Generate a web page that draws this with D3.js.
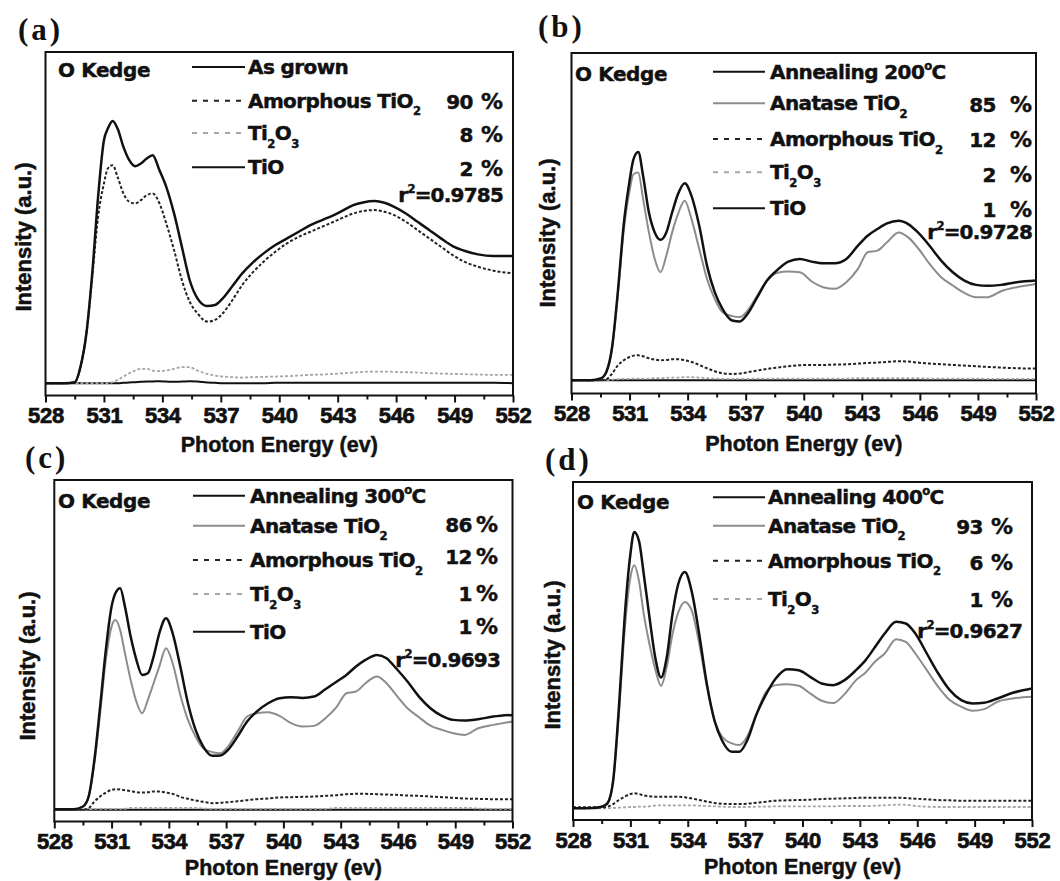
<!DOCTYPE html>
<html><head><meta charset="utf-8">
<script src="https://cdn.jsdelivr.net/npm/d3@7"></script>
<style>body{margin:0;background:#fff;} svg{display:block;background:#fff;}</style>
</head><body>
<svg id="chart" width="1060" height="881"></svg>
<script>
// ---------------- DATA ----------------
const energy = [528, 529, 529.5, 529.8, 530.1, 530.4, 530.7, 531.0, 531.2, 531.45, 531.7, 532.0, 532.3, 532.6, 532.9, 533.2, 533.5, 533.85, 534.2, 534.6, 535.0, 535.4, 535.8, 536.3, 536.7, 537.1, 537.6, 538.1, 538.6, 539.2, 539.8, 540.4, 541.0, 541.6, 542.2, 542.8, 543.3, 543.8, 544.3, 544.9, 545.4, 545.9, 546.5, 547.1, 547.7, 548.3, 548.9, 549.5, 550.2, 551.0, 552];
const xTickValues = [528, 531, 534, 537, 540, 543, 546, 549, 552];
const xMinorTickValues = [529.5, 532.5, 535.5, 538.5, 541.5, 544.5, 547.5, 550.5];

// (a) As grown
const a_main      = [0, 0, 0.3, 5, 15, 33, 56, 73, 76.5, 78.8, 76.5, 71, 67, 65.2, 66, 67.5, 68.5, 64, 59, 51, 41, 31, 25.5, 23.2, 23.5, 25.5, 29.2, 33, 36, 39, 41.5, 43.5, 45.5, 47.5, 49, 50.5, 52, 53.5, 54.3, 54.7, 54.2, 53, 51, 48.5, 46, 43.5, 41.2, 39.8, 38.7, 38.2, 38.2];
const a_amorphous = [0, 0, 0.3, 5, 15, 32, 50, 60, 64.5, 65.5, 62, 57, 54.5, 54, 55, 56.5, 57, 54, 48, 40, 31, 24.5, 21, 18.5, 19, 21, 25, 29.5, 33, 36.5, 39.5, 42, 44, 45.5, 47, 48.5, 49.8, 51, 51.7, 52, 51.5, 50.5, 48.5, 46, 43.5, 41, 38.5, 36.5, 35, 33.8, 33];
const a_ti2o3     = [0, 0, 0, 0, 0, 0, 0, 0, 0, 0.3, 1, 2, 3, 3.8, 4.3, 4.3, 3.8, 3.6, 3.8, 4.3, 4.8, 4.8, 3.8, 2.8, 2.3, 2, 1.8, 1.7, 1.8, 1.9, 2, 2.1, 2.3, 2.5, 2.6, 2.8, 3, 3.2, 3.4, 3.5, 3.5, 3.4, 3.3, 3.2, 3, 2.9, 2.8, 2.7, 2.6, 2.5, 2.5];
const a_tio       = [0, 0, 0, 0, 0, 0, 0, 0, 0, 0, 0, 0.1, 0.2, 0.3, 0.4, 0.5, 0.5, 0.6, 0.5, 0.4, 0.5, 0.6, 0.5, 0.2, 0.1, 0, 0, 0, 0, 0, 0.1, 0.1, 0.1, 0.1, 0.1, 0.1, 0.1, 0.1, 0.1, 0.1, 0.1, 0.1, 0.1, 0.1, 0.1, 0.1, 0.1, 0.1, 0.1, 0.1, 0];

// (b) Annealing 200 °C
const b_main      = [0, 0, 0.5, 2.5, 10, 27, 47, 60, 66.5, 68.7, 61.5, 50.5, 44.5, 42.3, 44.5, 50.5, 56, 59.3, 55.5, 46.5, 34.5, 26.5, 21.5, 18, 17.7, 20, 25, 30, 33, 35.7, 36.5, 35.7, 35.2, 35.2, 36.5, 40.5, 43.5, 45.5, 47.2, 48, 47, 44.5, 40.5, 36, 32.5, 30, 28.7, 28.4, 28.7, 29.5, 30];
const b_anatase   = [0, 0, 0.5, 2.5, 10, 26, 45, 57, 62, 62.5, 54.5, 44.5, 36.5, 32.5, 37.5, 44.5, 50, 54, 48.5, 39.5, 30.5, 24.5, 20.5, 19.3, 19, 21, 25.5, 30, 32.3, 32.7, 32.5, 29.8, 28, 27.5, 29.5, 33.5, 38.5, 39, 41.5, 44.5, 43, 39.8, 35, 31, 28.5, 26.3, 25, 25, 26.8, 28, 29];
const b_amorphous = [0, 0, 0, 0.3, 2, 4.5, 6, 7, 7.4, 7.5, 7.2, 6.6, 6.2, 6, 6.1, 6.3, 6.3, 6, 5.5, 4.6, 3.6, 2.7, 2.1, 1.9, 2, 2.4, 2.9, 3.4, 3.8, 4.2, 4.5, 4.6, 4.6, 4.7, 4.8, 5, 5.2, 5.3, 5.5, 5.7, 5.6, 5.3, 5, 4.8, 4.6, 4.4, 4.2, 4, 3.8, 3.6, 3.5];
const b_ti2o3     = [0, 0, 0, 0, 0.2, 0.3, 0.4, 0.4, 0.5, 0.5, 0.5, 0.5, 0.6, 0.6, 0.7, 0.8, 0.8, 0.9, 0.9, 0.8, 0.6, 0.5, 0.4, 0.4, 0.4, 0.4, 0.5, 0.5, 0.5, 0.5, 0.5, 0.5, 0.5, 0.5, 0.5, 0.6, 0.6, 0.6, 0.6, 0.6, 0.6, 0.6, 0.5, 0.5, 0.5, 0.5, 0.5, 0.4, 0.4, 0.4, 0.4];
const b_tio       = [0, 0, 0, 0, 0, 0, 0, 0, 0, 0, 0, 0, 0, 0, 0, 0, 0, 0, 0, 0, 0, 0, 0, 0, 0, 0, 0, 0, 0, 0, 0, 0, 0, 0, 0, 0, 0, 0, 0, 0, 0, 0, 0, 0, 0, 0, 0, 0, 0, 0, 0];

// (c) Annealing 300 °C
const c_main      = [0.2, 0.2, 1, 4, 15, 31, 48, 61, 65, 66.5, 61, 52, 45, 40.5, 41, 46, 53, 57.5, 53, 43, 32, 24, 19, 16.2, 16.3, 18, 22, 26.5, 29.5, 32, 33.5, 33.8, 33.6, 34, 36.2, 38.5, 40.5, 43, 45, 46.5, 45.5, 42.5, 38.5, 34, 30.5, 28.2, 27, 26.8, 27.2, 28, 28.5];
const c_anatase   = [0.2, 0.2, 1, 4, 14, 29, 45, 55, 57, 54, 47, 39, 32.5, 29, 33, 38, 43, 48.5, 44, 34.5, 27, 22, 18.5, 17.3, 17, 19, 23.5, 28, 29, 29.3, 28.2, 26, 25, 25.2, 27.5, 31, 35, 35.5, 38, 40, 38, 34.5, 30.5, 27.8, 25.3, 24, 23, 22.5, 24.5, 25.5, 26.5];
const c_amorphous = [0, 0, 0, 0.5, 2.5, 4, 5.2, 6, 6.2, 6.1, 5.9, 5.6, 5.3, 5.2, 5.3, 5.5, 5.5, 5.2, 4.8, 3.9, 3.3, 2.8, 2.4, 2, 2.1, 2.3, 2.6, 2.9, 3.2, 3.4, 3.7, 3.8, 3.9, 4, 4.2, 4.4, 4.7, 4.8, 4.8, 4.7, 4.6, 4.5, 4.3, 4.2, 4, 3.8, 3.6, 3.4, 3.3, 3.2, 3.2];
const c_ti2o3     = [0, 0, 0, 0.1, 0.3, 0.3, 0.3, 0.3, 0.3, 0.3, 0.3, 0.6, 0.6, 0.6, 0.6, 0.6, 0.6, 0.6, 0.6, 0.6, 0.6, 0.6, 0.4, 0.3, 0.3, 0.3, 0.3, 0.3, 0.3, 0.3, 0.3, 0.3, 0.3, 0.3, 0.3, 0.6, 0.6, 0.6, 0.6, 0.6, 0.6, 0.6, 0.6, 0.6, 0.6, 0.6, 0.6, 0.6, 0.4, 0.3, 0.3];
const c_tio       = [0, 0, 0, 0, 0, 0, 0, 0, 0, 0, 0, 0, 0, 0, 0, 0, 0, 0, 0, 0, 0, 0, 0, 0, 0, 0, 0, 0, 0, 0, 0, 0, 0, 0, 0, 0, 0, 0, 0, 0, 0, 0, 0, 0, 0, 0, 0, 0, 0, 0, 0];

// (d) Annealing 400 °C
const d_main      = [-0.3, -0.2, 0.2, 1.2, 8, 30, 57, 76, 82.7, 80, 70, 57, 45, 39, 45, 58, 67, 70.7, 65, 52, 37, 26, 20, 16.7, 16.7, 20, 28, 34, 38.7, 41.5, 41.2, 39.2, 37.2, 36.7, 38.2, 41.2, 44.2, 48.2, 52.2, 55.7, 55.2, 52.2, 46.2, 40.2, 35.2, 32.2, 31.2, 31.4, 32.7, 34.4, 35.7];
const d_anatase   = [-0.3, -0.2, 0.2, 1.2, 8, 28, 53, 69, 72.7, 68, 58, 49, 41.5, 36.5, 42.2, 52, 58.5, 61.7, 59.2, 49.2, 36.2, 26.2, 21.2, 19.2, 18.7, 21.2, 28.2, 34.7, 36.7, 37, 36.5, 34.2, 32, 31.3, 34, 38.2, 40.5, 43.8, 46.2, 50.5, 49.7, 46.2, 41.2, 36.2, 32.2, 30.2, 29, 29.5, 31.7, 32.7, 33.2];
const d_amorphous = [0, 0, 0, 0.2, 1, 2.2, 3.2, 4, 4.2, 4, 3.6, 3.3, 3.2, 3.2, 3.2, 3.2, 3.2, 3, 2.7, 2.2, 1.7, 1.3, 1.1, 1, 1, 1.1, 1.4, 1.7, 2, 2.1, 2.2, 2.3, 2.5, 2.6, 2.7, 2.8, 2.9, 2.9, 2.9, 2.9, 2.8, 2.6, 2.4, 2.2, 2.1, 2, 2, 2, 2, 2, 2];
const d_ti2o3     = [-0.3, -0.3, -0.3, -0.3, -0.2, -0.1, 0, 0.1, 0.1, 0.2, 0.2, 0.3, 0.5, 0.6, 0.6, 0.6, 0.6, 0.6, 0.6, 0.5, 0.4, 0.3, 0.2, 0.1, 0.1, 0.1, 0.2, 0.2, 0.3, 0.3, 0.3, 0.3, 0.3, 0.3, 0.4, 0.4, 0.4, 0.5, 0.6, 0.8, 0.8, 0.4, 0.2, 0.1, 0.1, 0.1, 0.1, 0.1, 0.1, 0.1, 0.1];

// legend labels and fit results
const a_labels = ["As grown", "Amorphous TiO_2", "Ti_2O_3", "TiO"];
const a_percent = [null, 90, 8, 2];
const a_r2 = "0.9785";
const b_labels = ["Annealing 200^oC", "Anatase TiO_2", "Amorphous TiO_2", "Ti_2O_3", "TiO"];
const b_percent = [null, 85, 12, 2, 1];
const b_r2 = "0.9728";
const c_labels = ["Annealing 300^oC", "Anatase TiO_2", "Amorphous TiO_2", "Ti_2O_3", "TiO"];
const c_percent = [null, 86, 12, 1, 1];
const c_r2 = "0.9693";
const d_labels = ["Annealing 400^oC", "Anatase TiO_2", "Amorphous TiO_2", "Ti_2O_3"];
const d_percent = [null, 93, 6, 1];
const d_r2 = "0.9627";

// ---------------- STYLES ----------------
const styles = {
  main:      {stroke: "#111", width: 2.5, dash: null,  legendDash: null},
  anatase:   {stroke: "#8c8c8c", width: 2, dash: null, legendDash: null},
  amorphous: {stroke: "#222", width: 2, dash: "3,2", legendDash: "5,6"},
  ti2o3:     {stroke: "#a6a6a6", width: 1.8, dash: "3,2", legendDash: "5,6"},
  tio:       {stroke: "#111", width: 2, dash: null, legendDash: null}
};
const LEG_FONT = "'DejaVu Sans', Verdana, sans-serif";
const AX_FONT = "'Liberation Sans', Arial, Helvetica, sans-serif";
const LEG_SIZE = 20;

const panels = [
  {tag: "(a)", tagX: 18, tagY: 40, left: 45.5, right: 513, top: 52, bottom: 395.5, yDom: [-3.7, 99.5],
   series: [["tio", a_tio], ["ti2o3", a_ti2o3], ["amorphous", a_amorphous], ["main", a_main]],
   legendKinds: ["main", "amorphous", "ti2o3", "tio"], labels: a_labels, percent: a_percent, r2: a_r2,
   kedge: [58, 70], lineX: [192, 245], textX: 248, rowY: [67, 100.7, 133, 167.3], pctY: [null, 102, 135, 168.5],
   numRight: 473, pctRight: 503, r2Right: 503, r2Y: 195, yTitle: [23, 237], titleDy: 56},
  {tag: "(b)", tagX: 538, tagY: 37, left: 571.5, right: 1036, top: 53, bottom: 393.5, yDom: [-4, 98.5],
   series: [["tio", b_tio], ["ti2o3", b_ti2o3], ["amorphous", b_amorphous], ["anatase", b_anatase], ["main", b_main]],
   legendKinds: ["main", "anatase", "amorphous", "ti2o3", "tio"], labels: b_labels, percent: b_percent, r2: b_r2,
   kedge: [575, 74], lineX: [713, 765], textX: 770, rowY: [71.7, 103.3, 139, 172.3, 208.3], pctY: [null, 105, 140, 175, 210],
   numRight: 996, pctRight: 1032, r2Right: 1032, r2Y: 231.7, yTitle: [547, 233], titleDy: 57},
  {tag: "(c)", tagX: 25, tagY: 468, left: 54.3, right: 512.5, top: 480, bottom: 821.5, yDom: [-3.5, 99],
   series: [["tio", c_tio], ["ti2o3", c_ti2o3], ["amorphous", c_amorphous], ["anatase", c_anatase], ["main", c_main]],
   legendKinds: ["main", "anatase", "amorphous", "ti2o3", "tio"], labels: c_labels, percent: c_percent, r2: c_r2,
   kedge: [58, 500.7], lineX: [193, 245], textX: 250, rowY: [495.7, 525.7, 560, 594, 631.7], pctY: [null, 525, 557.3, 594, 627],
   numRight: 472, pctRight: 498, r2Right: 500, r2Y: 660, yTitle: [27, 666], titleDy: 53},
  {tag: "(d)", tagX: 545, tagY: 470, left: 573, right: 1032, top: 482, bottom: 820, yDom: [-3.8, 97.7],
   series: [["ti2o3", d_ti2o3], ["amorphous", d_amorphous], ["anatase", d_anatase], ["main", d_main]],
   legendKinds: ["main", "anatase", "amorphous", "ti2o3"], labels: d_labels, percent: d_percent, r2: d_r2,
   kedge: [577, 502], lineX: [713, 765], textX: 768, rowY: [497.3, 525.7, 560.7, 599], pctY: [null, 526.7, 563.3, 600],
   numRight: 983, pctRight: 1013, r2Right: 1022, r2Y: 630.7, yTitle: [552, 655], titleDy: 54}
];

// ---------------- DRAW ----------------
const svg = d3.select("#chart");

function richText(sel, str, fs) {
  const parts = [];
  for (let k = 0; k < str.length; k++) {
    const ch = str[k];
    if (ch === "_" || ch === "^") { parts.push({t: str[k + 1], m: ch === "_" ? "sub" : "sup"}); k++; }
    else if (parts.length && parts[parts.length - 1].m === "n") parts[parts.length - 1].t += ch;
    else parts.push({t: ch, m: "n"});
  }
  let cur = 0;
  parts.forEach(p => {
    const off = p.m === "sub" ? 0.38 * fs : p.m === "sup" ? -0.45 * fs : 0;
    const ts = sel.append("tspan").text(p.t).attr("dy", off - cur);
    if (p.m !== "n") ts.attr("font-size", fs * 0.58);
    cur = off;
  });
}

function legText(g) {
  return g.append("text").attr("font-family", LEG_FONT).attr("font-weight", "bold")
    .attr("font-size", LEG_SIZE).attr("fill", "#111")
    .attr("stroke", "#111").attr("stroke-width", 0.45);
}

panels.forEach(p => {
  const x = d3.scaleLinear().domain([528, 552]).range([p.left, p.right]);
  const y = d3.scaleLinear().domain(p.yDom).range([p.bottom, p.top]);
  const g = svg.append("g");

  // panel tag
  g.append("text").attr("x", p.tagX).attr("y", p.tagY)
    .attr("font-family", "'Liberation Serif', 'Times New Roman', serif")
    .attr("font-weight", "bold").attr("font-size", 31).attr("letter-spacing", 3)
    .attr("fill", "#111").text(p.tag);

  // curves
  const clipId = "clip" + p.tag.replace(/[()]/g, "");
  svg.append("clipPath").attr("id", clipId).append("rect")
    .attr("x", p.left).attr("y", p.top).attr("width", p.right - p.left).attr("height", p.bottom - p.top);
  const line = d3.line().x((d, i) => x(energy[i])).y(d => y(d)).curve(d3.curveMonotoneX);
  p.series.forEach(([kind, vals]) => {
    const st = styles[kind];
    g.append("path").datum(vals).attr("d", line)
      .attr("clip-path", `url(#${clipId})`)
      .attr("fill", "none").attr("stroke", st.stroke).attr("stroke-width", st.width)
      .attr("stroke-dasharray", st.dash).attr("stroke-linejoin", "round");
  });

  // frame
  g.append("rect").attr("x", p.left).attr("y", p.top)
    .attr("width", p.right - p.left).attr("height", p.bottom - p.top)
    .attr("fill", "none").attr("stroke", "#111").attr("stroke-width", 2);

  // x axis (major + minor ticks)
  const ax = g.append("g").attr("transform", `translate(0,${p.bottom})`)
    .call(d3.axisBottom(x).tickValues(xTickValues).tickSize(7).tickPadding(5).tickFormat(d3.format("d")));
  ax.select(".domain").remove();
  ax.selectAll("line").attr("stroke", "#111").attr("stroke-width", 2);
  ax.selectAll("text").attr("font-family", AX_FONT).attr("font-weight", "bold")
    .attr("font-size", 22).attr("letter-spacing", -0.3).attr("fill", "#111")
    .attr("stroke", "#111").attr("stroke-width", 0.7);
  const axm = g.append("g").attr("transform", `translate(0,${p.bottom})`)
    .call(d3.axisBottom(x).tickValues(xMinorTickValues).tickSize(4).tickFormat(""));
  axm.select(".domain").remove();
  axm.selectAll("line").attr("stroke", "#111").attr("stroke-width", 2);

  // axis titles
  g.append("text").attr("x", (p.left + p.right) / 2).attr("y", p.bottom + p.titleDy)
    .attr("text-anchor", "middle").attr("font-family", AX_FONT).attr("font-weight", "bold")
    .attr("font-size", 21.5).attr("fill", "#111").attr("stroke", "#111").attr("stroke-width", 0.5)
    .text("Photon Energy (ev)");
  g.append("text").attr("transform", `translate(${p.yTitle[0]},${p.yTitle[1]}) rotate(-90)`)
    .attr("text-anchor", "middle").attr("dy", "0.35em").attr("font-family", AX_FONT)
    .attr("font-weight", "bold").attr("font-size", 22).attr("fill", "#111")
    .attr("stroke", "#111").attr("stroke-width", 0.5).text("Intensity (a.u.)");

  // O Kedge
  legText(g).attr("x", p.kedge[0]).attr("y", p.kedge[1] + 7)
    .attr("letter-spacing", -0.4).text("O Kedge");

  // legend
  p.legendKinds.forEach((kind, i) => {
    const st = styles[kind];
    const ry = p.rowY[i];
    g.append("line").attr("x1", p.lineX[0]).attr("x2", p.lineX[1]).attr("y1", ry).attr("y2", ry)
      .attr("stroke", st.stroke).attr("stroke-width", 2).attr("stroke-dasharray", st.legendDash);
    const t = legText(g).attr("x", p.textX).attr("y", ry + 7).attr("letter-spacing", -0.6);
    richText(t, p.labels[i], LEG_SIZE);
    if (p.percent[i] !== null) {
      legText(g).attr("x", p.numRight).attr("y", p.pctY[i] + 7).attr("text-anchor", "end")
        .attr("letter-spacing", -0.5).text(p.percent[i]);
      legText(g).attr("x", p.pctRight).attr("y", p.pctY[i] + 7).attr("text-anchor", "end")
        .attr("font-size", 22).text("%");
    }
  });
  const r2t = legText(g).attr("x", p.r2Right).attr("y", p.r2Y + 7).attr("text-anchor", "end")
    .attr("letter-spacing", -0.8);
  richText(r2t, "r^2=" + p.r2, LEG_SIZE);
});
</script>
</body></html>
